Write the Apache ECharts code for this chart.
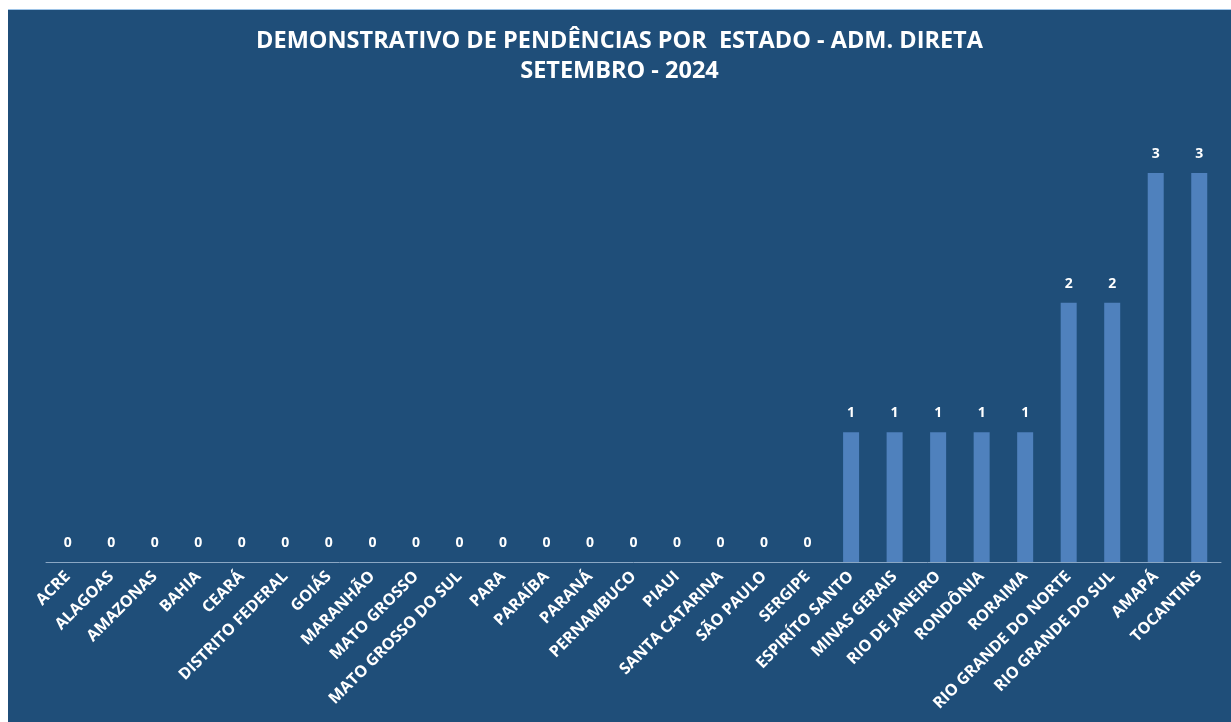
<!DOCTYPE html>
<html>
<head>
<meta charset="utf-8">
<script src="https://cdn.jsdelivr.net/npm/echarts@6/dist/echarts.min.js"></script>
<style>
  html, body { margin: 0; padding: 0; background: #fff; width: 1231px; height: 722px; overflow: hidden; }
  #chart { position: absolute; left: 8px; top: 9px; width: 1223px; height: 713px; border-top: 1px solid #9dc3e6; box-sizing: border-box; }
</style>
</head>
<body>
<div id="chart"></div>
<script>
const estados = [
  "ACRE", "ALAGOAS", "AMAZONAS", "BAHIA", "CEARÁ", "DISTRITO FEDERAL", "GOIÁS",
  "MARANHÃO", "MATO GROSSO", "MATO GROSSO DO SUL", "PARA", "PARAÍBA", "PARANÁ",
  "PERNAMBUCO", "PIAUI", "SANTA CATARINA", "SÃO PAULO", "SERGIPE", "ESPIRÍTO SANTO",
  "MINAS GERAIS", "RIO DE JANEIRO", "RONDÔNIA", "RORAIMA", "RIO GRANDE DO NORTE",
  "RIO GRANDE DO SUL", "AMAPÁ", "TOCANTINS"
];

const pendencias = [0, 0, 0, 0, 0, 0, 0, 0, 0, 0, 0, 0, 0, 0, 0, 0, 0, 0, 1, 1, 1, 1, 1, 2, 2, 3, 3];

var chartDom = document.getElementById("chart");
var myChart = echarts.init(chartDom);
var font = "'Open Sans', 'Liberation Sans', sans-serif";
var option = {
  backgroundColor: "#1f4e79",
  animation: false,
  title: {
    text: "DEMONSTRATIVO DE PENDÊNCIAS POR  ESTADO - ADM. DIRETA\nSETEMBRO - 2024",
    left: "center",
    top: 11,
    textStyle: {
      color: "#ffffff",
      fontFamily: font,
      fontWeight: "bold",
      fontSize: 23.5,
      lineHeight: 30,
    },
  },
  grid: { left: 38, right: 10, top: 163, bottom: 160 },
  xAxis: {
    type: "category",
    data: estados,
    axisLine: { lineStyle: { color: "#8aa7c4", width: 1 } },
    axisTick: { show: false },
    axisLabel: {
      interval: 0,
      rotate: 45,
      color: "#ffffff",
      fontFamily: font,
      fontWeight: "bold",
      fontSize: 16,
      margin: 12,
    },
  },
  yAxis: {
    type: "value",
    min: 0,
    max: 3,
    show: false,
    splitLine: { show: false },
  },
  series: [
    {
      type: "bar",
      data: pendencias,
      barWidth: 16,
      itemStyle: { color: "#4f81bd" },
      label: {
        show: true,
        position: "top",
        distance: 12,
        color: "#ffffff",
        fontFamily: font,
        fontWeight: "bold",
        fontSize: 14,
      },
    },
  ],
};
option && myChart.setOption(option);
</script>
</body>
</html>
